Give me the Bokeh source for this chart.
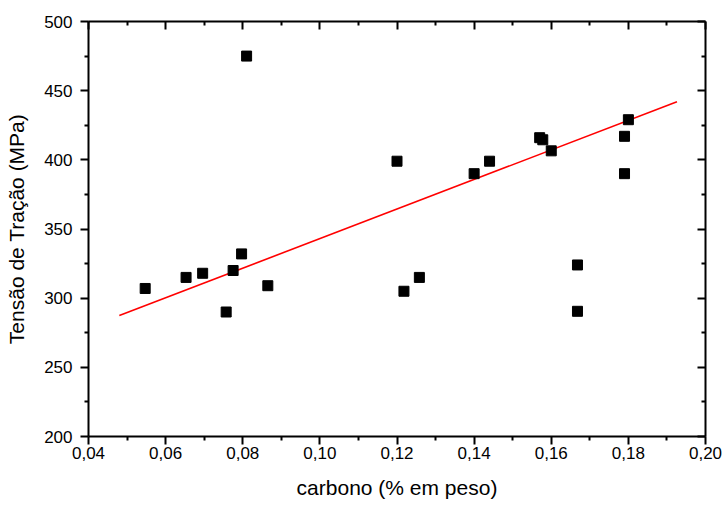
from bokeh.plotting import figure
from bokeh.models import Range1d, LinearAxis, FixedTicker, CustomLabelingPolicy
from bokeh.embed import file_html
from bokeh.resources import INLINE

# data
carbono = [0.0547, 0.0653, 0.0696, 0.0757, 0.0775, 0.0797, 0.0810, 0.0865,
           0.1200, 0.1218, 0.1258, 0.1400, 0.1440, 0.1570, 0.1578, 0.1600,
           0.1668, 0.1668, 0.1790, 0.1790, 0.1800]
tensao = [307, 315, 318, 290, 320, 332, 475, 309,
          399, 305, 315, 390, 399, 416, 414.5, 406.5,
          324, 290.5, 417, 390, 429]

fit_x = [0.048, 0.1926]
fit_y = [287.5, 442.0]

x_ticks = [0.04, 0.06, 0.08, 0.10, 0.12, 0.14, 0.16, 0.18, 0.20]
x_tick_labels = ["0,04", "0,06", "0,08", "0,10", "0,12", "0,14", "0,16", "0,18", "0,20"]
x_minor = [0.05, 0.07, 0.09, 0.11, 0.13, 0.15, 0.17, 0.19]
y_ticks = [200, 250, 300, 350, 400, 450, 500]
y_tick_labels = ["200", "250", "300", "350", "400", "450", "500"]
y_minor = [225, 275, 325, 375, 425, 475]

FONT = "Liberation Sans"

p = figure(width=724, height=505, output_backend="svg", toolbar_location=None,
           x_range=Range1d(0.04, 0.20), y_range=Range1d(200, 500),
           x_axis_location=None, y_axis_location=None,
           min_border_left=88, min_border_top=21, min_border_right=19,
           min_border_bottom=69)
p.grid.visible = False
p.outline_line_color = None
p.background_fill_color = "white"
p.border_fill_color = "white"

xt = FixedTicker(ticks=x_ticks, minor_ticks=x_minor)
yt = FixedTicker(ticks=y_ticks, minor_ticks=y_minor)

no_labels = CustomLabelingPolicy(code="""
    return new indices.constructor(indices.size)
""")


def style(ax, labels_on, inward):
    ax.axis_line_width = 2
    ax.axis_line_color = "black"
    ax.major_tick_line_width = 2
    ax.major_tick_line_color = "black"
    ax.minor_tick_line_width = 2
    ax.minor_tick_line_color = "black"
    if inward:
        ax.major_tick_in = 8
        ax.major_tick_out = 0
        ax.minor_tick_in = 4
        ax.minor_tick_out = 0
    else:
        ax.major_tick_in = 0
        ax.major_tick_out = 8
        ax.minor_tick_in = 0
        ax.minor_tick_out = 4
    if labels_on:
        ax.major_label_text_font = FONT
        ax.major_label_text_font_size = "17px"
        ax.major_label_text_color = "black"
        ax.axis_label_text_font = FONT
        ax.axis_label_text_font_size = "21px"
        ax.axis_label_text_font_style = "normal"
        ax.axis_label_text_color = "black"
    else:
        ax.major_label_text_font_size = "1px"
        ax.major_label_text_alpha = 0
        ax.major_label_standoff = 0
        ax.major_label_policy = no_labels


xb = LinearAxis(ticker=xt, axis_label="carbono (% em peso)",
                major_label_overrides={t: l for t, l in zip(x_ticks, x_tick_labels)})
style(xb, True, False)
xb.major_label_standoff = 2
xb.axis_label_standoff = 14
p.add_layout(xb, "below")

yl = LinearAxis(ticker=yt, axis_label="Tensão de Tração (MPa)",
                major_label_overrides={t: l for t, l in zip(y_ticks, y_tick_labels)})
style(yl, True, False)
yl.major_label_standoff = 8
yl.axis_label_standoff = 13
p.add_layout(yl, "left")

xtop = LinearAxis(ticker=xt)
style(xtop, False, True)
p.add_layout(xtop, "above")

yr = LinearAxis(ticker=yt)
style(yr, False, True)
p.add_layout(yr, "right")

p.line(fit_x, fit_y, line_color="#ff0000", line_width=1.6)
p.scatter(carbono, tensao, marker="square", size=10, fill_color="black",
          line_color="black")

open("out.html", "w").write(file_html(p, INLINE))
